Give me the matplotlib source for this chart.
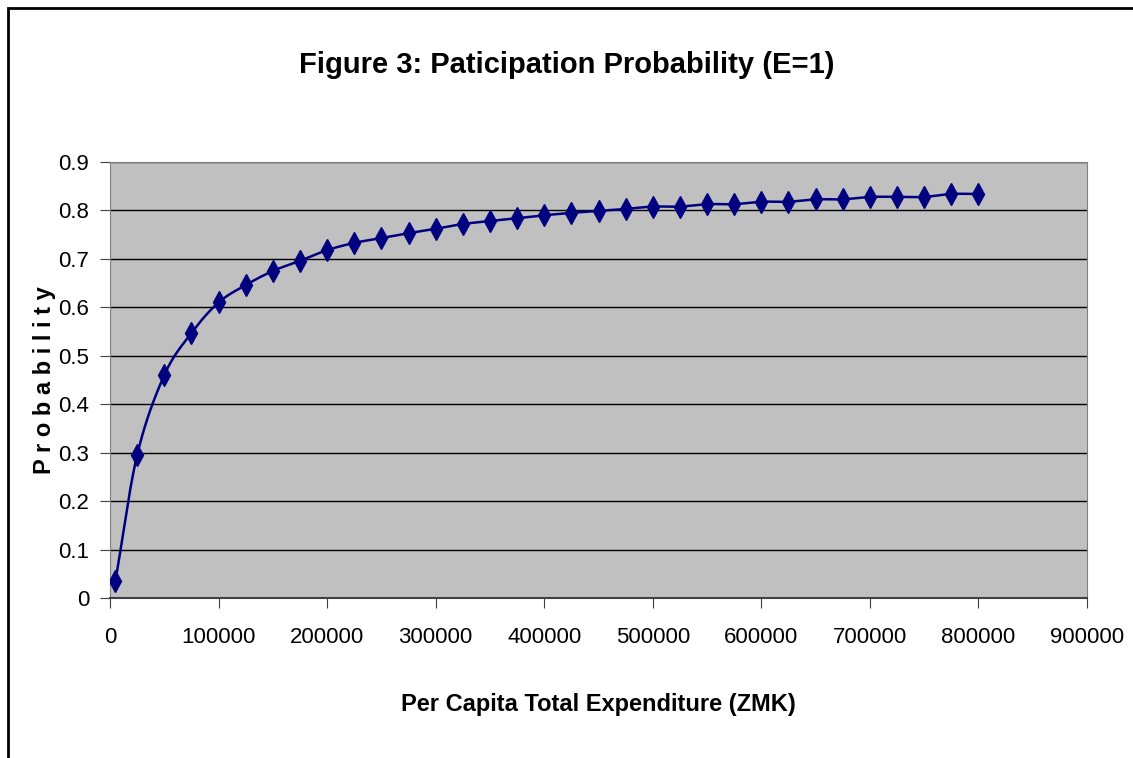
import numpy as np
import matplotlib
matplotlib.use("Agg")
import matplotlib.pyplot as plt
from matplotlib import font_manager
from matplotlib.patches import Rectangle

names = {f.name for f in font_manager.fontManager.ttflist}
fam = "Liberation Sans Narrow" if "Liberation Sans Narrow" in names else "Liberation Sans"
plt.rcParams['font.family'] = [fam, 'DejaVu Sans']

expenditure = [5000, 25000, 50000, 75000, 100000, 125000, 150000, 175000, 200000,
               225000, 250000, 275000, 300000, 325000, 350000, 375000, 400000,
               425000, 450000, 475000, 500000, 525000, 550000, 575000, 600000,
               625000, 650000, 675000, 700000, 725000, 750000, 775000, 800000]
probability = [0.035, 0.295, 0.460, 0.547, 0.610, 0.646, 0.675, 0.696, 0.718,
               0.733, 0.743, 0.753, 0.762, 0.772, 0.778, 0.784, 0.790,
               0.795, 0.799, 0.803, 0.808, 0.808, 0.813, 0.813, 0.818,
               0.818, 0.823, 0.823, 0.828, 0.828, 0.828, 0.834, 0.834]
x_ticks = [0, 100000, 200000, 300000, 400000, 500000, 600000, 700000, 800000, 900000]
y_ticks = [0, 0.1, 0.2, 0.3, 0.4, 0.5, 0.6, 0.7, 0.8, 0.9]

title = "Figure 3: Paticipation Probability (E=1)"
xlabel = "Per Capita Total Expenditure (ZMK)"
ylabel = "P r o b a b i l i t y"

def smooth(xs, ys, n=20):
    xs = np.asarray(xs, float); ys = np.asarray(ys, float)
    px = np.concatenate([[2*xs[0]-xs[1]], xs, [2*xs[-1]-xs[-2]]])
    py = np.concatenate([[2*ys[0]-ys[1]], ys, [2*ys[-1]-ys[-2]]])
    ox, oy = [], []
    t = np.linspace(0, 1, n, endpoint=False)
    for i in range(1, len(px)-2):
        for P, out in ((px, ox), (py, oy)):
            p0, p1, p2, p3 = P[i-1], P[i], P[i+1], P[i+2]
            out.extend(0.5*((2*p1) + (-p0+p2)*t + (2*p0-5*p1+4*p2-p3)*t**2 + (-p0+3*p1-3*p2+p3)*t**3))
    ox.append(xs[-1]); oy.append(ys[-1])
    return np.array(ox), np.array(oy)

fig = plt.figure(figsize=(11.33, 7.58), dpi=100)
fig.patches.append(Rectangle((8/1133, -0.1), 1.2, 1 - 8/758 + 0.1, transform=fig.transFigure,
                             fill=False, edgecolor='black', linewidth=2))
ax = fig.add_axes([110/1133, 1 - 598/758, (1087-110)/1133, (598-162)/758])
ax.set_facecolor('#C0C0C0')
ax.set_xlim(0, 900000)
ax.set_ylim(0, 0.9)
ax.set_xticks(x_ticks)
ax.set_xticklabels([str(v) for v in x_ticks])
ax.set_yticks(y_ticks)
ax.set_yticklabels([f"{v:g}" for v in y_ticks])
ax.yaxis.grid(True, color='black', linewidth=1)
ax.set_axisbelow(True)
for s in ['top', 'right']:
    ax.spines[s].set_color('#808080')
ax.spines['left'].set_color('#808080')
ax.spines['bottom'].set_color('#404040')
ax.spines['bottom'].set_linewidth(1.5)
ax.tick_params(axis='both', direction='out', length=7, color='#404040', labelsize=16, pad=8)
ax.tick_params(axis='x', pad=14)

sx, sy = smooth(expenditure, probability)
ax.plot(sx, sy, color='#000080', linewidth=1.8, zorder=3)
ax.plot(expenditure, probability, linestyle='none', marker='d', markersize=11,
        color='#000080', zorder=4)

fig.text(0.5, 1 - 65/758, title, ha='center', va='center', fontsize=21, fontweight='bold')
fig.text((110+1087)/2/1133, 1 - 705/758, xlabel, ha='center', va='center', fontsize=17, fontweight='bold')
fig.text(45/1133, 1 - 380/758, ylabel, ha='center', va='center', rotation=90, fontsize=17, fontweight='bold')

fig.savefig("out.png", dpi=100)
